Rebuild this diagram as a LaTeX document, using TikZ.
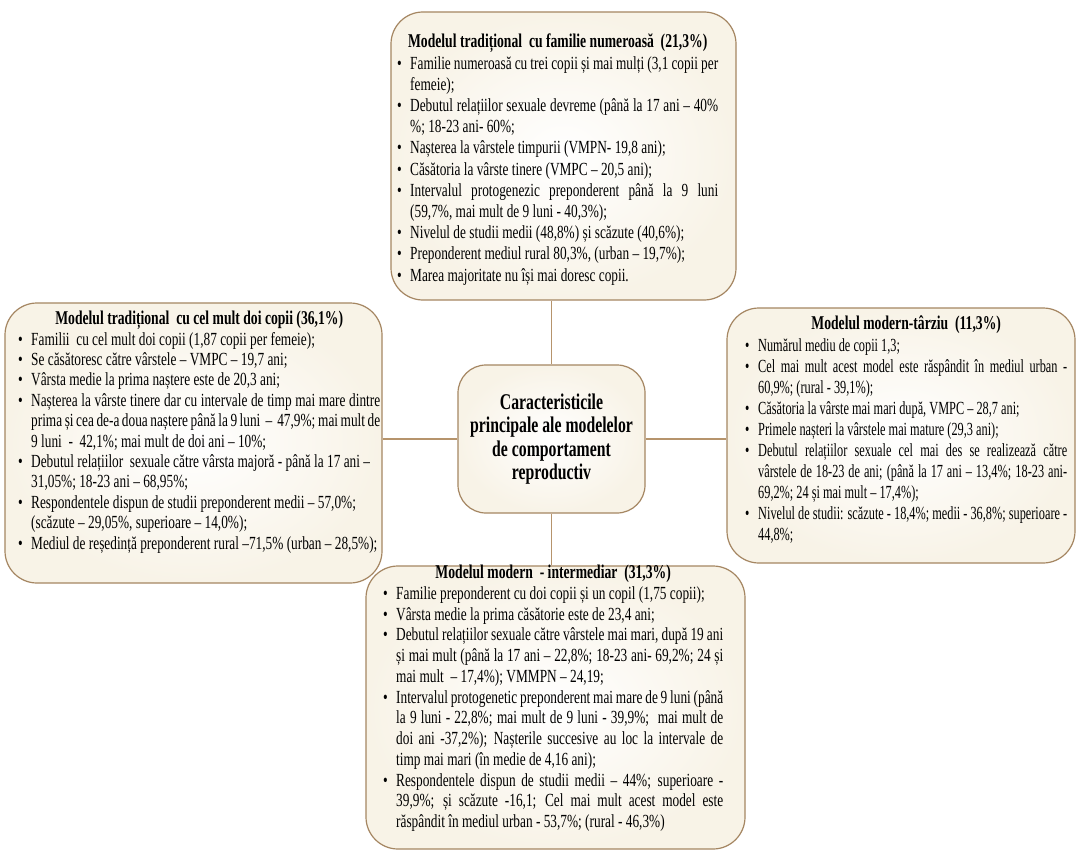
\documentclass[tikz,border=0pt]{standalone}
\usepackage{fontspec}
\setmainfont{Liberation Serif}[FakeStretch=0.72]
\newfontfamily\ttlfam{Liberation Serif}[FakeStretch=0.70]
\newfontfamily\rfam{Liberation Serif}[FakeStretch=0.665]
\definecolor{edge}{RGB}{165,134,98}
\definecolor{conn}{RGB}{182,148,108}
\definecolor{cream}{RGB}{248,243,231}
\newcommand\bodyfont[1]{\fontsize{18.5}{#1}\selectfont\hyphenpenalty=10000\exhyphenpenalty=10000\tolerance=9999}
\newcommand\ttlfont{\ttlfam\fontsize{19.5}{22}\selectfont\bfseries}
\newlength\hng \setlength\hng{13pt}
\newcommand\bit{\par\noindent\hangindent=\hng\hangafter=1\makebox[\hng][l]{\textbullet}}
\newcommand\ttl[1]{\noindent{\centering\ttlfont #1\par}}
\tikzset{
  boxshape/.style={draw=edge, line width=1.2pt, rounded corners=32pt, inner color=white, outer color=cream, inner sep=0pt},
  txt/.style={anchor=north west, inner sep=0pt, align=justify, text width=#1},
  conline/.style={draw=conn, line width=1.6pt}
}
\begin{document}
\begin{tikzpicture}[x=1pt,y=-1pt]
\useasboundingbox (0,0) rectangle (1077,856);
\fill[white] (0,0) rectangle (1077,856);
% boxes
\node[boxshape, minimum width=345pt, minimum height=288pt] (T) at (563.5,156) {};
\node[boxshape, minimum width=377pt, minimum height=280pt] (L) at (193.5,443) {};
\node[boxshape, minimum width=348pt, minimum height=255pt] (R) at (901,435.5) {};
\node[boxshape, minimum width=379pt, minimum height=283pt] (B) at (555.5,707.5) {};
\node[boxshape, rounded corners=28pt, minimum width=187pt, minimum height=148pt, align=center,
      font=\ttlfam\fontsize{22.5}{23.5}\selectfont\bfseries] (C) at (551.5,439)
  {Caracteristicile\\principale ale modelelor\\de comportament\\reproductiv};
% connectors
\draw[conline] (C.north) -- (C.north |- T.south);
\draw[conline] (C.south) -- (C.south |- B.north);
\draw[conline] (C.west) -- (C.west -| L.east);
\draw[conline] (C.east) -- (C.east -| R.west);
% texts
\node[txt=321pt, font=\bodyfont{21.2}] (Tt) at (397,34) {%
\ttl{Modelul tradițional~ cu familie numeroasă~ (21,3\%)}
\bit Familie numeroasă cu trei copii și mai mulți (3,1 copii per\linebreak femeie);
\bit Debutul relațiilor sexuale devreme (până la 17 ani – 40\%\linebreak \%; 18-23 ani- 60\%;
\bit Nașterea la vârstele timpurii (VMPN- 19,8 ani);
\bit Căsătoria la vârste tinere (VMPC – 20,5 ani);
\bit Intervalul protogenezic preponderent până la 9 luni\linebreak (59,7\%, mai mult de 9 luni - 40,3\%);
\bit Nivelul de studii medii (48,8\%) și scăzute (40,6\%);
\bit Preponderent mediul rural 80,3\%, (urban – 19,7\%);
\bit Marea majoritate nu își mai doresc copii.\par};
\node[txt=362pt, font=\bodyfont{20.4}] (Lt) at (18,311) {%
\ttl{Modelul tradițional~ cu cel mult doi copii (36,1\%)}
\bit Familii~ cu cel mult doi copii (1,87 copii per femeie);
\bit Se căsătoresc către vârstele – VMPC – 19,7 ani;
\bit Vârsta medie la prima naștere este de 20,3 ani;
\bit Nașterea la vârste tinere dar cu intervale de timp mai mare dintre\linebreak prima și cea de-a doua naștere până la 9 luni~ –~ 47,9\%; mai mult de\linebreak 9 luni~ -~ 42,1\%; mai mult de doi ani – 10\%;
\bit Debutul relațiilor~ sexuale către vârsta majoră - până la 17 ani –\newline 31,05\%; 18-23 ani – 68,95\%;
\bit Respondentele dispun de studii preponderent medii – 57,0\%;\newline (scăzute – 29,05\%, superioare – 14,0\%);
\bit Mediul de reședință preponderent rural –71,5\% (urban – 28,5\%);\par};
\node[txt=322pt, font={\rfam\bodyfont{21.1}}] (Rt) at (745,316) {%
\ttl{Modelul modern-târziu~ (11,3\%)}
\bit Numărul mediu de copii 1,3;
\bit Cel mai mult acest model este răspândit în mediul urban -\linebreak 60,9\%; (rural - 39,1\%);
\bit Căsătoria la vârste mai mari după, VMPC – 28,7 ani;
\bit Primele nașteri la vârstele mai mature (29,3 ani);
\bit Debutul relațiilor sexuale cel mai des se realizează către\linebreak vârstele de 18-23 de ani; (până la 17 ani – 13,4\%; 18-23 ani-\linebreak 69,2\%; 24 și mai mult – 17,4\%);
\bit Nivelul de studii: scăzute - 18,4\%; medii - 36,8\%; superioare -\linebreak 44,8\%;\par};
\node[txt=340pt, font=\bodyfont{20.75}] (Bt) at (383,565) {%
\ttl{Modelul modern~ - intermediar~ (31,3\%)}
\bit Familie preponderent cu doi copii și un copil (1,75 copii);
\bit Vârsta medie la prima căsătorie este de 23,4 ani;
\bit Debutul relațiilor sexuale către vârstele mai mari, după 19 ani\linebreak și mai mult (până la 17 ani – 22,8\%; 18-23 ani- 69,2\%; 24 și\linebreak mai mult~ – 17,4\%); VMMPN – 24,19;
\bit Intervalul protogenetic preponderent mai mare de 9 luni (până\linebreak la 9 luni - 22,8\%; mai mult de 9 luni - 39,9\%;~ mai mult de\linebreak doi ani -37,2\%); Nașterile succesive au loc la intervale de\linebreak timp mai mari (în medie de 4,16 ani);
\bit Respondentele dispun de studii medii – 44\%; superioare -\linebreak 39,9\%; și scăzute -16,1; Cel mai mult acest model este\linebreak răspândit în mediul urban - 53,7\%; (rural - 46,3\%)\par};
\end{tikzpicture}
\end{document}
